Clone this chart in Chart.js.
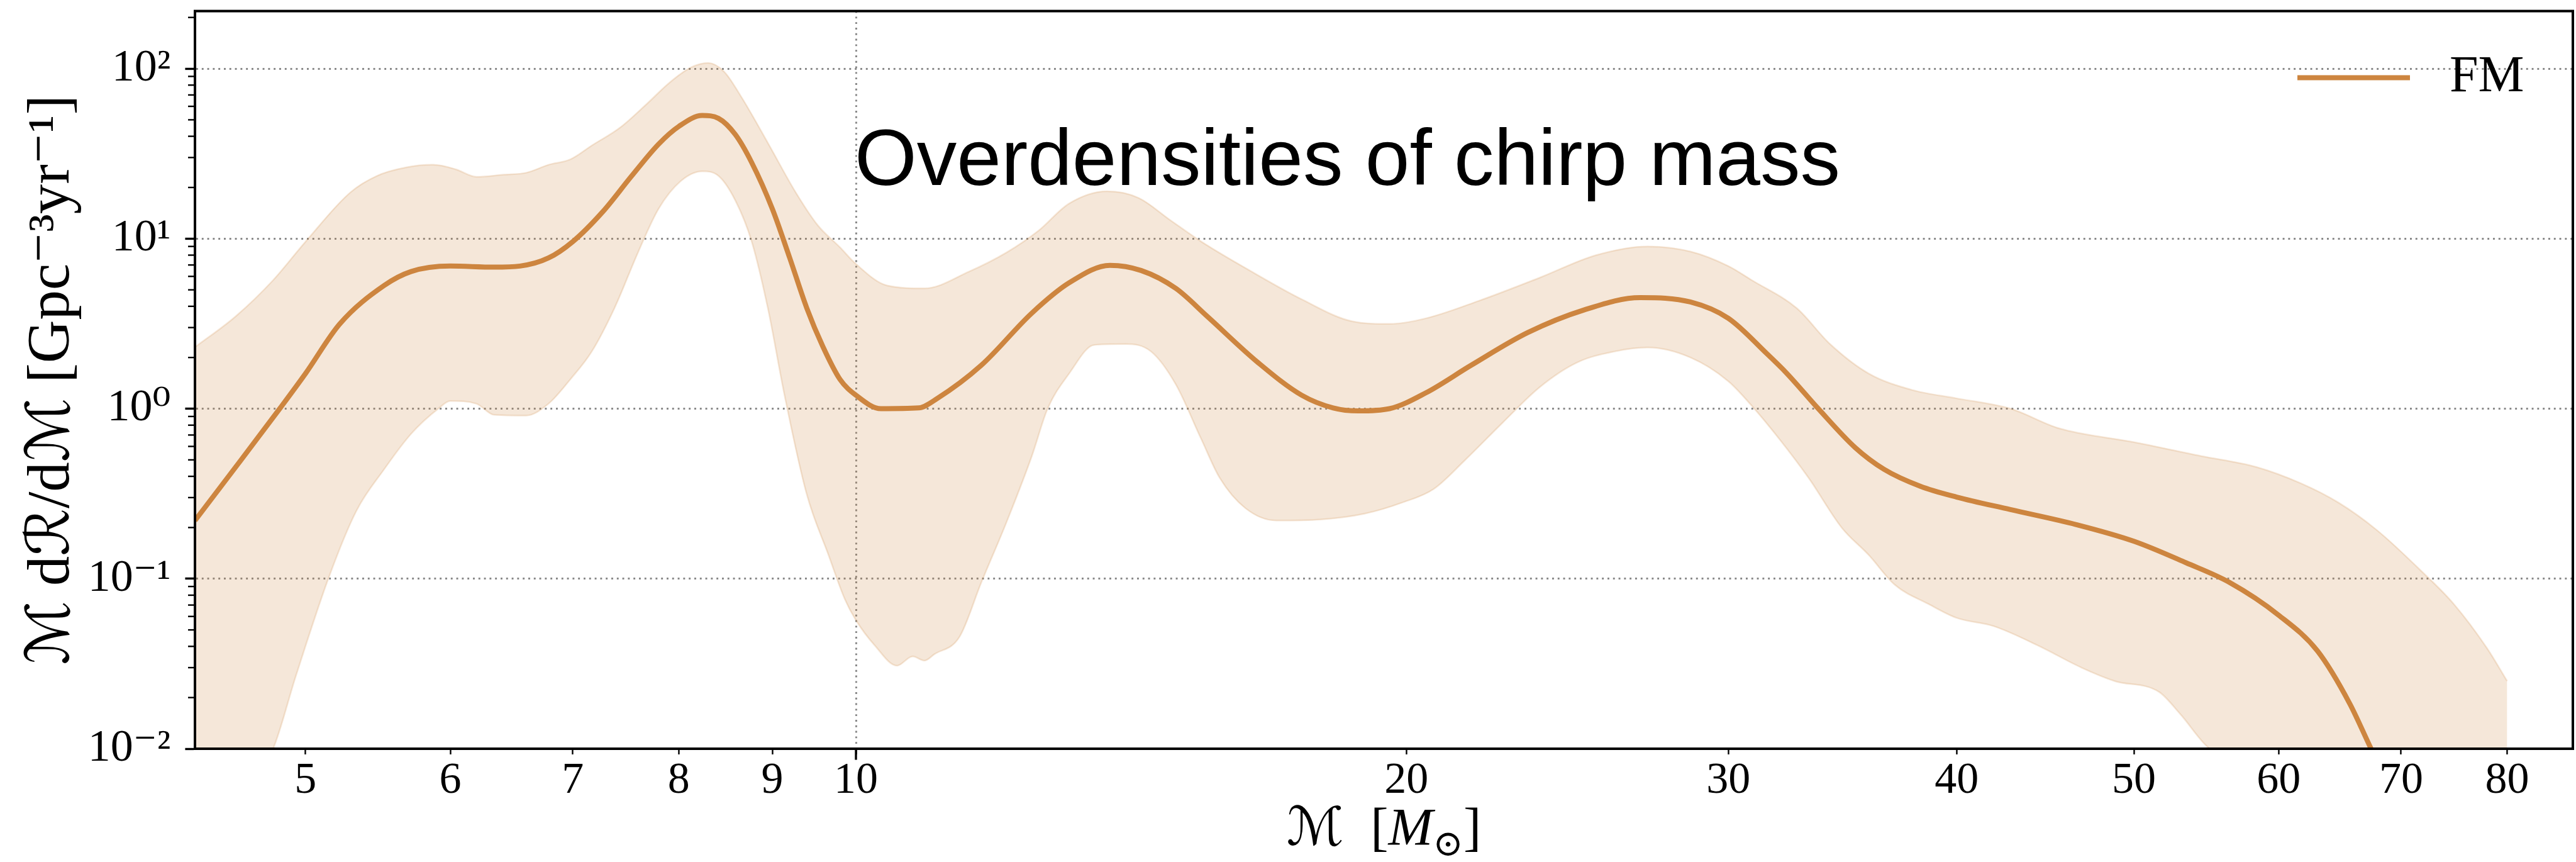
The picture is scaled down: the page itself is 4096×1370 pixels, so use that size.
<!DOCTYPE html>
<html>
<head>
<meta charset="utf-8">
<script src="https://cdn.jsdelivr.net/npm/chart.js@4.4.1/dist/chart.umd.min.js"></script>
<style>
  html, body { margin: 0; padding: 0; background: #fff; }
</style>
</head>
<body>
<canvas id="chart" width="4096" height="1370"></canvas>
<script>
// chirp mass (M_sun) and rate density, one pair of arrays per curve
const medianX = [4.35, 4.58, 4.84, 5.0, 5.22, 5.52, 5.71, 6.0, 6.34, 6.55, 6.79, 7.0, 7.27, 7.54, 7.8, 8.0, 8.24, 8.41, 8.59, 8.77,
  9.0, 9.2, 9.4, 9.59, 9.8, 10.0, 10.32, 10.82, 11.08, 11.71, 12.48, 13.08, 13.77, 14.32, 14.96, 15.56, 16.59, 17.53, 18.24, 18.82,
  19.58, 20.5, 21.7, 23.3, 25.0, 26.85, 28.6, 30.0, 31.5, 32.3, 33.6, 35.2, 36.5, 38.2, 40, 42.8, 46.5, 50, 53.4, 56.4,
  60, 63.0, 65.6, 67.4, 69];
const medianY = [0.22, 0.455, 1.0, 1.61, 3.15, 5.3, 6.4, 6.9, 6.8, 6.9, 7.7, 9.6, 14.4, 23.4, 36, 45.7, 53, 51, 41, 28,
  15, 7.7, 3.9, 2.33, 1.49, 1.2, 1.0, 1.01, 1.15, 1.8, 3.65, 5.5, 6.97, 6.5, 5.1, 3.5, 1.87, 1.2, 1.01, 0.97,
  1.0, 1.24, 1.8, 2.8, 3.8, 4.5, 4.24, 3.4, 2.1, 1.61, 1.0, 0.59, 0.44, 0.35, 0.302, 0.255, 0.208, 0.166, 0.124, 0.095,
  0.061, 0.0376, 0.0185, 0.01, 0.006];

const upperX = [4.35, 4.58, 4.8, 5.0, 5.29, 5.47, 5.67, 5.87, 6.04, 6.2, 6.42, 6.6, 6.79, 6.98, 7.17, 7.43, 7.69, 7.91, 8.13, 8.3,
  8.47, 8.65, 8.95, 9.27, 9.53, 9.8, 10.0, 10.4, 10.9, 11.53, 12.09, 12.58, 13.08, 13.72, 14.27, 14.85, 15.45, 16.46, 17.53, 18.67,
  19.58, 20.5, 21.9, 23.66, 25.4, 27.1, 28.6, 30.0, 30.9, 32.7, 34.1, 35.8, 37.8, 40, 42.8, 45.5, 50, 54.4, 58.3, 61.7,
  64.7, 67.9, 71.8, 74.8, 78.0, 80];
const upperY = [2.3, 3.5, 5.7, 9.6, 18.7, 23.4, 26.2, 27.2, 25.6, 23.1, 23.8, 24.4, 27.2, 29.3, 35.3, 45, 62.5, 83, 102, 108,
  96, 69, 36.6, 18.7, 12, 8.9, 7.1, 5.3, 5.1, 6.4, 8.3, 11.1, 16.1, 19, 17.4, 12.9, 9.6, 6.4, 4.4, 3.27,
  3.15, 3.4, 4.3, 5.9, 8.0, 9.0, 8.4, 6.9, 5.7, 3.9, 2.4, 1.61, 1.29, 1.15, 1.0, 0.766, 0.635, 0.527, 0.455, 0.364,
  0.28, 0.193, 0.111, 0.071, 0.039, 0.025];

const lowerX = [4.35, 4.8, 4.94, 5.15, 5.33, 5.52, 5.71, 5.91, 6.0, 6.2, 6.34, 6.6, 6.79, 6.98, 7.17, 7.38, 7.6, 7.8, 8.02, 8.24,
  8.41, 8.59, 8.77, 8.95, 9.14, 9.4, 9.66, 9.86, 10.0, 10.24, 10.53, 10.74, 10.9, 11.04, 11.39, 11.71, 12.09, 12.48, 12.73, 13.08,
  13.5, 14.05, 14.5, 14.96, 15.45, 15.81, 16.33, 16.98, 17.95, 18.97, 19.89, 20.7, 21.5, 22.57, 23.66, 24.8, 26.0, 27.1, 28.6, 30.0,
  30.9, 32.0, 33.2, 34.6, 35.8, 37.0, 38.6, 40, 41.9, 44.3, 46.8, 48.8, 51.6, 53.0, 55.0, 80];
const lowerY = [0.002, 0.01, 0.0269, 0.1026, 0.25, 0.44, 0.71, 1.0, 1.11, 1.07, 0.92, 0.91, 1.07, 1.49, 2.17, 3.93, 8.3, 15, 21.8, 24.9,
  23.4, 16.8, 9.6, 3.9, 1.2, 0.313, 0.138, 0.076, 0.057, 0.0405, 0.0308, 0.0349, 0.033, 0.036, 0.0453, 0.095, 0.216, 0.527, 1.0, 1.61,
  2.37, 2.4, 2.17, 1.39, 0.66, 0.392, 0.26, 0.22, 0.223, 0.241, 0.28, 0.337, 0.49, 0.824, 1.34, 1.87, 2.17, 2.29, 2.0, 1.45,
  1.04, 0.66, 0.39, 0.2, 0.138, 0.092, 0.071, 0.0588, 0.0526, 0.0405, 0.03, 0.025, 0.0216, 0.016, 0.01, 0.002];

const xTicks = [5, 6, 7, 8, 9, 10, 20, 30, 40, 50, 60, 70, 80];
const yTicks = [0.01, 0.1, 1, 10, 100];
const seriesLabel = 'FM';
const noteText = 'Overdensities of chirp mass';
const yTitle = 'ℳ dℛ/dℳ [Gpc⁻³yr⁻¹]';

const peru = '#cd853f';
const band = 'rgba(205, 133, 63, 0.2)';
const gridGray = '#888888';
const serif = "'Liberation Serif', 'DejaVu Serif', 'DejaVu Sans', serif";

function pts(xs, ys) {
  return xs.map((x, i) => ({x: x, y: ys[i]}));
}

const sup = {'-': '\u207B', '0': '\u2070', '1': '\u00B9', '2': '\u00B2', '3': '\u00B3'};
function powLabel(v) {
  const e = Math.round(Math.log10(v));
  return '10' + String(e).split('').map(c => sup[c]).join('');
}

// frame, minor ticks, legend, the note and the x title with its subscript
const extras = {
  id: 'extras',
  afterDraw(chart) {
    const ctx = chart.ctx, a = chart.chartArea;
    const xs = chart.scales.x, ys = chart.scales.y;
    ctx.save();
    ctx.strokeStyle = '#000';

    ctx.lineWidth = 2.4;
    for (let e = -2; e <= 2; e++) {
      for (let m = 2; m <= 9; m++) {
        const v = m * Math.pow(10, e);
        if (v > ys.max) continue;
        const py = ys.getPixelForValue(v);
        ctx.beginPath();
        ctx.moveTo(a.left - 2, py);
        ctx.lineTo(a.left - 11, py);
        ctx.stroke();
      }
    }
    const p10 = xs.getPixelForValue(10);
    ctx.lineWidth = 3.4;
    ctx.beginPath();
    ctx.moveTo(p10, a.bottom + 2);
    ctx.lineTo(p10, a.bottom + 17.6);
    ctx.stroke();

    ctx.lineWidth = 4;
    ctx.strokeRect(a.left, a.top, a.right - a.left, a.bottom - a.top);

    // legend entry for the median curve
    const ds = chart.data.datasets[2];
    const ly = a.top + 106;
    ctx.strokeStyle = ds.borderColor;
    ctx.lineWidth = ds.borderWidth;
    ctx.beginPath();
    ctx.moveTo(a.right - 438, ly);
    ctx.lineTo(a.right - 259, ly);
    ctx.stroke();
    ctx.fillStyle = '#000';
    ctx.font = '82px ' + serif;
    ctx.textBaseline = 'middle';
    ctx.textAlign = 'left';
    ctx.fillText(ds.label, a.right - 196, ly);

    ctx.textBaseline = 'alphabetic';
    ctx.font = "127px 'Liberation Sans', Arial, sans-serif";
    ctx.fillText(noteText, p10 - 2, a.top + 276);

    const parts = [
      {t: 'ℳ', f: '85px ' + serif, dy: 0},
      {t: '\u2002[', f: '85px ' + serif, dy: 0},
      {t: 'M', f: 'italic 85px ' + serif, dy: 0},
      {t: '⊙', f: '58px ' + serif, dy: 17},
      {t: ']', f: '85px ' + serif, dy: 0}
    ];
    let total = 0;
    parts.forEach(p => { ctx.font = p.f; p.w = ctx.measureText(p.t).width; total += p.w; });
    let cx = (a.left + a.right) / 2 - total / 2;
    const base = a.bottom + 153;
    parts.forEach(p => { ctx.font = p.f; ctx.fillText(p.t, cx, base + p.dy); cx += p.w; });
    ctx.restore();
  }
};

new Chart(document.getElementById('chart'), {
  type: 'line',
  data: {
    datasets: [
      {label: 'lower', data: pts(lowerX, lowerY), borderColor: band, borderWidth: 2.5,
        pointRadius: 0, fill: false, cubicInterpolationMode: 'monotone', clip: 0},
      {label: 'upper', data: pts(upperX, upperY), borderColor: band, borderWidth: 2.5, backgroundColor: band,
        pointRadius: 0, fill: '-1', cubicInterpolationMode: 'monotone', clip: 0},
      {label: seriesLabel, data: pts(medianX, medianY), borderColor: peru, backgroundColor: peru, borderWidth: 8,
        pointRadius: 0, fill: false, cubicInterpolationMode: 'monotone', clip: 0}
    ]
  },
  options: {
    responsive: false,
    devicePixelRatio: 1,
    animation: false,
    layout: {padding: {top: 17.6, right: 5, left: 0, bottom: 0}},
    scales: {
      x: {
        type: 'logarithmic', min: 4.35, max: 86.9,
        afterBuildTicks: s => { s.ticks = xTicks.map(v => ({value: v})); },
        afterFit: s => { s.height = 180; s.paddingLeft = 0; s.paddingRight = 0; },
        ticks: {callback: v => String(v), color: '#000', padding: 7.5, maxRotation: 0, autoSkip: false,
          font: {family: serif, size: 70, lineHeight: 1}},
        grid: {color: c => (c.tick && c.tick.value === 10) ? gridGray : 'rgba(0,0,0,0)', lineWidth: 2.9,
          tickColor: '#000', tickLength: 9, tickWidth: 2.4},
        border: {display: true, color: '#000', width: 4, dash: [2.9, 5.9]}
      },
      y: {
        type: 'logarithmic', min: 0.01, max: 218,
        afterBuildTicks: s => { s.ticks = yTicks.map(v => ({value: v})); },
        afterFit: s => { s.width = 310; s.paddingTop = 0; s.paddingBottom = 0; },
        ticks: {callback: v => powLabel(v), color: '#000', padding: 23, autoSkip: false,
          font: {family: serif, size: 72, lineHeight: 1}},
        grid: {color: gridGray, lineWidth: 2.9, tickColor: '#000', tickLength: 15.6, tickWidth: 3.4},
        border: {display: true, color: '#000', width: 4, dash: [2.9, 5.9]},
        title: {display: true, text: yTitle, color: '#000', padding: {top: 27, bottom: 0},
          font: {family: serif, size: 95, lineHeight: 1.2}}
      }
    },
    plugins: {
      legend: {display: false},
      tooltip: {enabled: false}
    }
  },
  plugins: [extras]
});
</script>
</body>
</html>
